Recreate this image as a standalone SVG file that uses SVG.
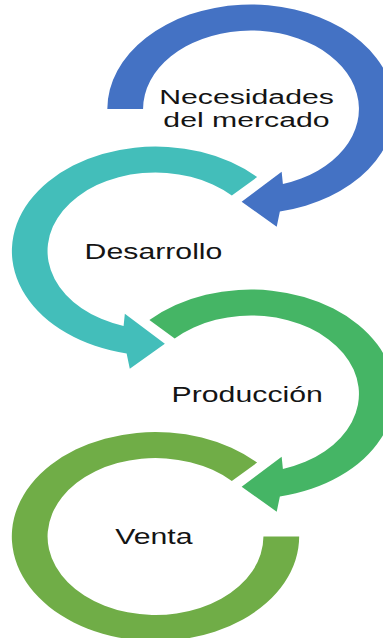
<svg xmlns="http://www.w3.org/2000/svg" width="383" height="638" viewBox="0 0 383 638">
<style>
.lbl{font-family:"Liberation Sans",Arial,sans-serif;font-size:22px;fill:#141414;text-anchor:middle}
.sm{font-size:21px}
.c1{fill:#4472C4}
.c2{fill:#43BEBA}
.c3{fill:#45B565}
.c4{fill:#70AD47}
</style>
<rect width="383" height="638" fill="#ffffff"/>
<g id="connectors"/>
<g id="node-necesidades">
<path class="c1" transform="translate(251,109) scale(1.375,1)" d="M -104.5 0 A 104.5 104.5 0 1 1 21.0 102.4 L 18.7 117.7 L -6.8 92.7 L 22.3 62.7 L 23.2 75.0 A 78.5 78.5 0 1 0 -78.5 0 Z"/>
<text class="lbl sm" transform="translate(246.5,103.5) scale(1.44,1)">Necesidades</text>
<text class="lbl sm" transform="translate(246.5,127) scale(1.44,1)">del mercado</text>
</g>
<g id="node-desarrollo">
<path class="c2" transform="translate(155.5,251) scale(1.375,1)" d="M 73.9 -73.9 A 104.5 104.5 0 1 0 -21.0 102.4 L -18.7 117.7 L 6.8 92.7 L -22.3 62.7 L -23.2 75.0 A 78.5 78.5 0 1 1 55.5 -55.5 Z"/>
<text class="lbl" transform="translate(153.5,259.3) scale(1.375,1)">Desarrollo</text>
</g>
<g id="node-produccion">
<path class="c3" transform="translate(251,394) scale(1.375,1)" d="M -73.9 -73.9 A 104.5 104.5 0 1 1 21.0 102.4 L 18.7 117.7 L -6.8 92.7 L 22.3 62.7 L 23.2 75.0 A 78.5 78.5 0 1 0 -55.5 -55.5 Z"/>
<text class="lbl" transform="translate(247.2,401.7) scale(1.375,1)">Producción</text>
</g>
<g id="node-venta">
<path class="c4" transform="translate(155.5,536.5) scale(1.375,1)" d="M 73.9 -73.9 A 104.5 104.5 0 1 0 104.5 0 L 78.5 0 A 78.5 78.5 0 1 1 55.5 -55.5 Z"/>
<text class="lbl" transform="translate(153.8,544) scale(1.375,1)">Venta</text>
</g>
</svg>
